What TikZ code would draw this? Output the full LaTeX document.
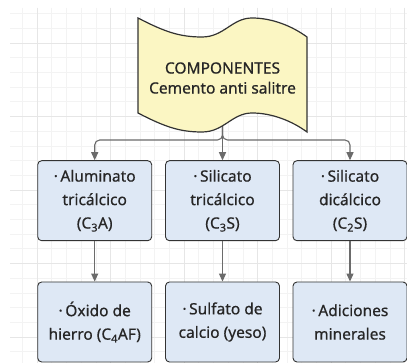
\documentclass[tikz,border=0pt]{standalone}
\usepackage{fontspec}
\setmainfont[FakeBold=0.6]{Noto Sans}
\usepackage{xcolor}
\usetikzlibrary{arrows.meta}
\definecolor{boxfill}{HTML}{DEE8F5}
\definecolor{flagfill}{HTML}{FBF6C3}
\definecolor{edgegray}{HTML}{333333}
\definecolor{textgray}{HTML}{262626}
\definecolor{arrowgray}{HTML}{6B6B6B}
\definecolor{minorgrid}{HTML}{F3F3F3}
\definecolor{majorgrid}{HTML}{E6E6E6}

\begin{document}
\begin{tikzpicture}[x=1pt,y=-1pt,
  compbox/.style={draw=edgegray,line width=0.9pt,fill=boxfill,rounded corners=4pt,
    minimum width=114pt,minimum height=80pt,align=center,inner sep=0pt,text=textgray,
    font=\fontsize{15.5}{23.5}\selectfont},
  flagtext/.style={align=center,inner sep=0pt,text=textgray,font=\fontsize{15.5}{20}\selectfont},
  conn/.style={draw=arrowgray,line width=1.1pt,rounded corners=5pt,
    -{Triangle[length=8pt,width=7pt]}}]
\useasboundingbox (0,0) rectangle (407,363);
\fill[white] (0,0) rectangle (407,363);
\foreach \i in {0,...,26} \draw[minorgrid,line width=0.6pt] ({22.3+14.7*\i},8) -- ({22.3+14.7*\i},363);
\foreach \i in {0,...,24} \draw[minorgrid,line width=0.6pt] (10,{13.6+14.7*\i}) -- (407,{13.6+14.7*\i});
\foreach \i in {0,...,5} \draw[majorgrid,line width=0.8pt] ({37+73.5*\i},8) -- ({37+73.5*\i},363);
\foreach \i in {0,...,4} \draw[majorgrid,line width=0.8pt] (10,{43+73.5*\i}) -- (407,{43+73.5*\i});

\coordinate (flagtail) at (222.5,124);
\node[compbox] (a1) at (94.7,200.7) {·\,Aluminato\\tricálcico\\(C\textsubscript{3}A)};
\node[compbox] (a2) at (222.5,200.7) {·\,Silicato\\tricálcico\\(C\textsubscript{3}S)};
\node[compbox] (a3) at (350,200.7) {·\,Silicato\\dicálcico\\(C\textsubscript{2}S)};
\node[compbox] (b1) at (94.7,322) {·\,Óxido de\\hierro (C\textsubscript{4}AF)};
\node[compbox] (b2) at (222.5,322) {·\,Sulfato de\\calcio (yeso)};
\node[compbox] (b3) at (350,322) {·\,Adiciones\\minerales};

\draw[conn] (flagtail) -- ++(0,16) -| (a1);
\draw[conn] (flagtail) -- (a2);
\draw[conn] (flagtail) -- ++(0,16) -| (a3);
\draw[conn] (a1) -- (b1);
\draw[conn] (a2) -- (b2);
\draw[conn] (a3) -- (b3);

\draw[draw=edgegray,line width=1.2pt,fill=flagfill]
  (138,18) .. controls (165,32) and (180,37) .. (202,37)
  .. controls (224,37) and (232,18) .. (252,18)
  .. controls (272,18) and (292,26) .. (307,37)
  -- (307,132)
  .. controls (292,121) and (272,113) .. (252,113)
  .. controls (232,113) and (224,132) .. (202,132)
  .. controls (180,132) and (165,127) .. (138,113) -- cycle;
\node[flagtext] (flag) at (222.5,78) {COMPONENTES\\Cemento anti salitre};
\end{tikzpicture}
\end{document}
